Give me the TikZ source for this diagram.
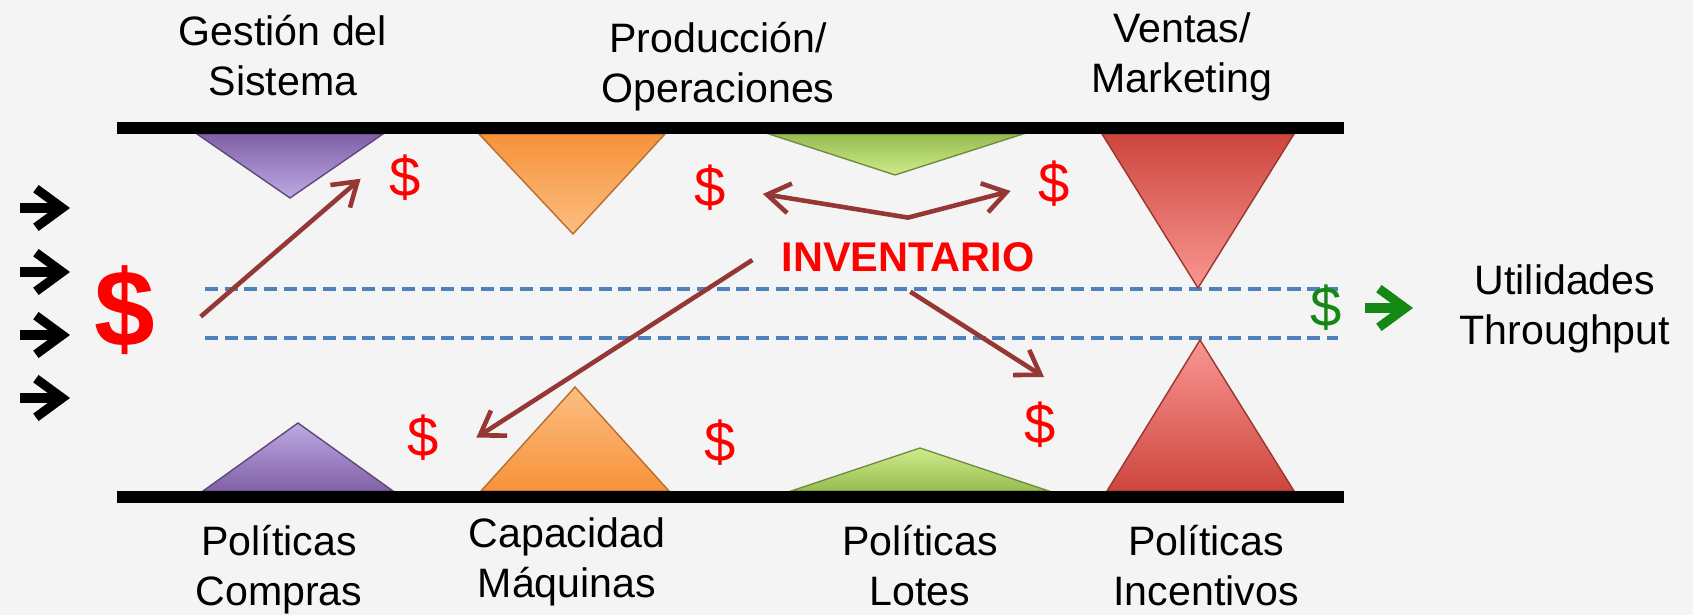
\documentclass[tikz,border=0pt]{standalone}
\usepackage{fontspec}
\setmainfont{Liberation Sans}
\usetikzlibrary{arrows.meta}

\begin{document}
\begin{tikzpicture}[x=0.1mm,y=-0.1mm,
    lbl/.style={align=center,font=\fontsize{11.7}{14.2}\selectfont,inner sep=0pt},
    cash/.style={text=red,font=\fontsize{16}{16}\selectfont,inner sep=0pt},
    flow/.style={draw=arrowred,line width=1.3pt,>={Straight Barb[length=6.5pt,width=8.5pt]},->},
    wedge/.style={draw=#1!75!black,line width=0.4pt},
    inarrow/.style={line width=2.6pt,-{Straight Barb[length=7.5pt,width=11pt]}},
    flowline/.style={draw=flowblue,line width=1.1pt,dash pattern=on 3.7pt off 1.9pt},
    bar/.style={line width=3.4pt}]
    \definecolor{bgcol}{RGB}{244,244,244}
    \definecolor{arrowred}{RGB}{149,55,53}
    \definecolor{flowblue}{RGB}{79,129,189}
    \definecolor{utilgreen}{RGB}{20,135,20}
    \definecolor{purpleA}{RGB}{128,96,166}
    \definecolor{purpleB}{RGB}{190,170,228}
    \definecolor{orangeA}{RGB}{247,146,58}
    \definecolor{orangeB}{RGB}{251,190,130}
    \definecolor{greenA}{RGB}{150,188,80}
    \definecolor{greenB}{RGB}{206,236,140}
    \definecolor{redA}{RGB}{205,70,62}
    \definecolor{redB}{RGB}{250,150,146}
    \fill[bgcol] (0,0) rectangle (1693,615);
    \useasboundingbox (0,0) rectangle (1693,615);

    \draw[flowline] (205,289) -- (1338,289);
    \draw[flowline] (205,338) -- (1338,338);

    \path[wedge=purpleA,top color=purpleA,bottom color=purpleB] (197,134) -- (383,134) -- (290,198) -- cycle;
    \path[wedge=orangeA,top color=orangeA,bottom color=orangeB] (479,134) -- (665,134) -- (573,234) -- cycle;
    \path[wedge=greenA,top color=greenA,bottom color=greenB]    (769,134) -- (1023,134) -- (895,175) -- cycle;
    \path[wedge=redA,top color=redA,bottom color=redB]          (1102,134) -- (1294,134) -- (1198,288) -- cycle;
    \path[wedge=purpleA,top color=purpleB,bottom color=purpleA] (203,491) -- (393,491) -- (298,423) -- cycle;
    \path[wedge=orangeA,top color=orangeB,bottom color=orangeA] (481,491) -- (669,491) -- (575,387) -- cycle;
    \path[wedge=greenA,top color=greenB,bottom color=greenA]    (791,491) -- (1049,491) -- (920,448) -- cycle;
    \path[wedge=redA,top color=redB,bottom color=redA]          (1107,491) -- (1294,491) -- (1200,340) -- cycle;

    \draw[bar] (117,128) -- (1344,128);
    \draw[bar] (117,497) -- (1344,497);

    \node[lbl] (gestion) at (283,56) {Gestión del\\Sistema};
    \node[lbl] (produccion) at (718,67) {Producción/\\Operaciones};
    \node[lbl] (ventas) at (1182,57) {Ventas/\\Marketing};
    \node[lbl] (compras) at (279,570) {Políticas\\Compras};
    \node[lbl] (capacidad) at (567,562) {Capacidad\\Máquinas};
    \node[lbl] (lotes) at (920,566) {Políticas\\Lotes};
    \node[lbl] (incentivos) at (1206,566) {Políticas\\Incentivos};
    \node[lbl] (utilidades) at (1565,309) {Utilidades\\Throughput};

    \node[text=red,font=\bfseries\fontsize{11.8}{14}\selectfont,inner sep=0pt] (inv) at (908,257) {INVENTARIO};
    \node[cash,font=\bfseries\fontsize{31}{31}\selectfont] (big) at (125,310) {\$};
    \node[cash] (d1) at (405,178) {\$};
    \node[cash] (d2) at (710,188) {\$};
    \node[cash] (d3) at (1054,184) {\$};
    \node[cash] (d4) at (423,438) {\$};
    \node[cash] (d5) at (720,443) {\$};
    \node[cash] (d6) at (1040,425) {\$};
    \node[cash,text=utilgreen] (gd) at (1326,308) {\$};

    \draw[flow,shorten <=5.9mm,shorten >=3.7mm] (big.south east) -- (d1.north west);
    \draw[flow,<->,shorten <=3.7mm,shorten >=2.8mm] (d2.east) -- ([yshift=2.4mm]inv.north) -- (d3.west);
    \draw[flow,shorten <=3.4mm,shorten >=4.4mm] (inv.north west) -- (d4.south east);
    \coordinate (lotesgap) at (1044,377);
    \draw[flow,shorten <=3.6mm] ([xshift=-2.8mm]inv.south) -- (lotesgap);

    \coordinate (in1) at (20,208);
    \coordinate (in2) at (20,272);
    \coordinate (in3) at (20,335);
    \coordinate (in4) at (20,398);
    \draw[inarrow] (in1) -- ++(50,0);
    \draw[inarrow] (in2) -- ++(50,0);
    \draw[inarrow] (in3) -- ++(50,0);
    \draw[inarrow] (in4) -- ++(50,0);
    \coordinate (out) at (1365,308);
    \draw[inarrow,draw=utilgreen] (out) -- ++(48,0);
\end{tikzpicture}
\end{document}
